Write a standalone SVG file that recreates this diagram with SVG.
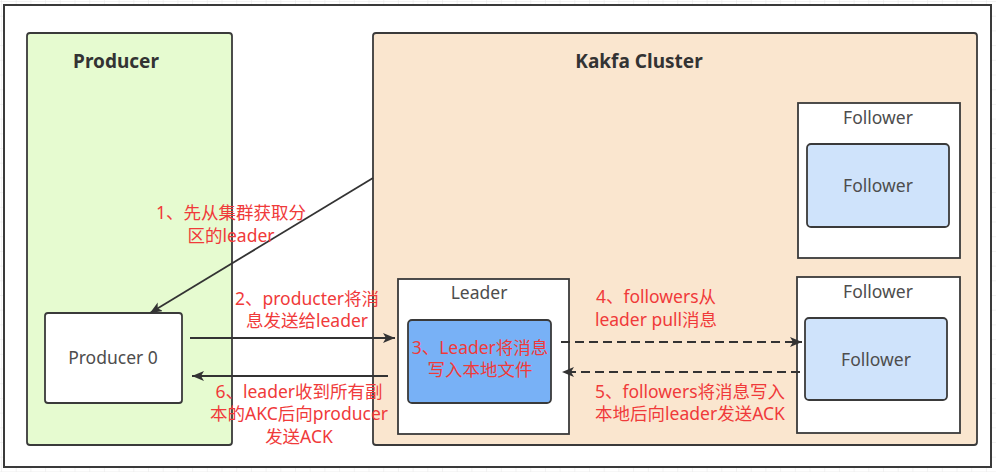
<svg xmlns="http://www.w3.org/2000/svg" width="996" height="472" viewBox="0 0 996 472">
<style>
.container{stroke:#3a3a3a;stroke-width:1.8}
.box{fill:#ffffff;stroke:#3a3a3a;stroke-width:1.8}
.title{font-family:"Noto Sans","Noto Sans CJK SC",sans-serif;font-weight:bold;font-size:19px;fill:#333333;text-anchor:middle}
.lbl{font-family:"Noto Sans","Noto Sans CJK SC",sans-serif;font-size:17.5px;fill:#4d4d4d;text-anchor:middle}
.red{font-family:"Noto Sans","Noto Sans CJK SC",sans-serif;font-size:17.5px;fill:#f03a3a;text-anchor:middle}
.edge{stroke:#333333;stroke-width:1.8;fill:none}
.dash{stroke-dasharray:9 5}
</style>
<defs>
<pattern id="grid" width="14.7" height="14.7" patternUnits="userSpaceOnUse" x="2" y="2">
<path d="M14.7 0 V14.7 M0 14.7 H14.7" stroke="#e6e6e6" stroke-width="1" fill="none"/>
</pattern>
<marker id="arr" markerUnits="userSpaceOnUse" markerWidth="14" markerHeight="12" refX="12" refY="5" orient="auto">
<path d="M0,0 L12,5 L0,10 L3,5 z" fill="#333333"/>
</marker>
</defs>
<rect x="0" y="0" width="996" height="472" fill="#ffffff"/>
<rect x="0" y="0" width="996" height="472" fill="url(#grid)"/>
<rect x="4" y="5" width="987" height="462" fill="#ffffff" stroke="#3a3a3a" stroke-width="2"/>

<g id="producer-group">
<rect class="container" x="27" y="33" width="205" height="412" rx="3" fill="#e6fbd0"/>
<text class="title" x="116" y="68">Producer</text>
</g>

<g id="kafka-cluster">
<rect class="container" x="373" y="33" width="604" height="412" rx="3" fill="#fae6cf"/>
<text class="title" x="639" y="68">Kakfa Cluster</text>
</g>

<g id="producer0">
<rect class="box" x="45" y="313" width="137" height="90" rx="3"/>
<text class="lbl" x="113" y="364">Producer 0</text>
</g>

<g id="leader">
<rect class="box" x="398" y="279" width="171" height="155"/>
<text class="lbl" x="479" y="299">Leader</text>
</g>
<g id="leader-store">
<rect x="408" y="320" width="143" height="83" rx="4" fill="#78b1f6" stroke="#3a3a3a" stroke-width="1.8"/>
<text class="red" x="480" y="354">3、Leader将消息</text>
<text class="red" x="480" y="376">写入本地文件</text>
</g>

<g id="follower1">
<rect class="box" x="798" y="103" width="162" height="155"/>
<text class="lbl" x="878" y="124">Follower</text>
</g>
<g id="follower1-inner">
<rect x="807" y="144" width="142" height="83" rx="4" fill="#cfe3fb" stroke="#3a3a3a" stroke-width="1.8"/>
<text class="lbl" x="878" y="192">Follower</text>
</g>

<g id="follower2">
<rect class="box" x="797" y="277" width="163" height="156"/>
<text class="lbl" x="878" y="298">Follower</text>
</g>
<g id="follower2-inner">
<rect x="805" y="318" width="142" height="82" rx="4" fill="#cfe3fb" stroke="#3a3a3a" stroke-width="1.8"/>
<text class="lbl" x="876" y="366">Follower</text>
</g>

<g id="connectors">
<line class="edge" x1="373" y1="178" x2="150" y2="313" marker-end="url(#arr)"/>
<line class="edge" x1="190" y1="338" x2="395" y2="338" marker-end="url(#arr)"/>
<line class="edge" x1="388" y1="376" x2="192" y2="376" marker-end="url(#arr)"/>
<line class="edge dash" x1="561" y1="342" x2="802" y2="342" marker-end="url(#arr)"/>
<line class="edge dash" x1="800" y1="372" x2="562" y2="372" marker-end="url(#arr)"/>
</g>

<g id="edge-labels">
<text class="red" x="231" y="219">1、先从集群获取分</text>
<text class="red" x="231" y="242">区的leader</text>
<text class="red" x="307" y="305">2、producter将消</text>
<text class="red" x="307" y="327">息发送给leader</text>
<text class="red" x="299" y="398">6、leader收到所有副</text>
<text class="red" x="299" y="420">本的AKC后向producer</text>
<text class="red" x="299" y="443">发送ACK</text>
<text class="red" x="656" y="303">4、followers从</text>
<text class="red" x="656" y="326">leader pull消息</text>
<text class="red" x="690" y="398">5、followers将消息写入</text>
<text class="red" x="690" y="420">本地后向leader发送ACK</text>
</g>
</svg>
